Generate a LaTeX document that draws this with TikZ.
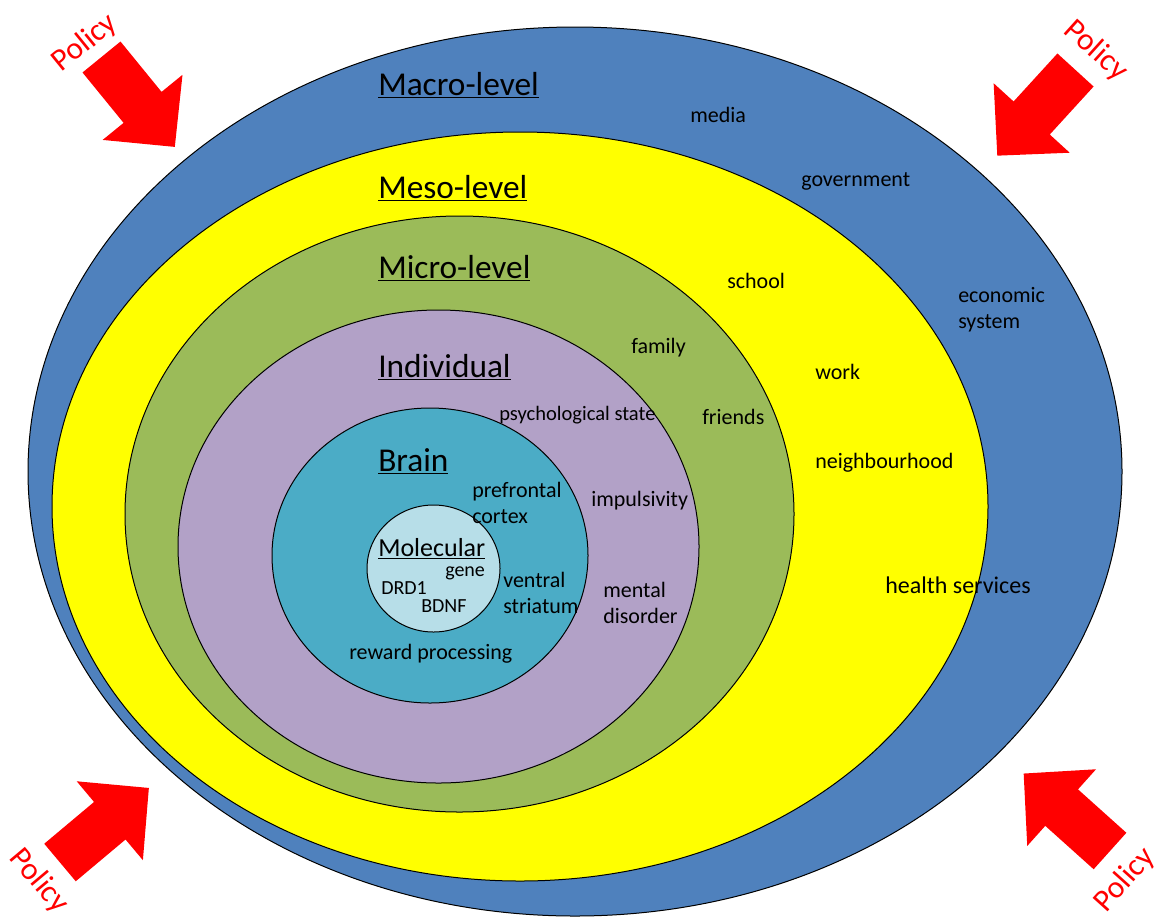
\documentclass[tikz,border=0pt]{standalone}
\usepackage{fontspec}
\setmainfont{Carlito}
\definecolor{macroblue}{HTML}{4F81BD}
\definecolor{mesoyellow}{HTML}{FFFF00}
\definecolor{microgreen}{HTML}{9BBB59}
\definecolor{indivpurple}{HTML}{B2A1C7}
\definecolor{brainteal}{HTML}{4BACC6}
\definecolor{molblue}{HTML}{B7DEE8}
\definecolor{policyred}{HTML}{FF0000}

% block arrow pointing along +x, tail centred on the origin
\newcommand\policyarrow[4]{%
  \fill[policyred, shift={(#2,#3)}, rotate=#4]
    (0,-24.5) -- (65,-24.5) -- (65,-51.5) -- (116,0)
    -- (65,51.5) -- (65,24.5) -- (0,24.5) -- cycle;
}

\begin{document}
\begin{tikzpicture}[x=0.75pt,y=-0.75pt]
\tikzset{
  ring/.style={draw=black, line width=0.75pt},
  level/.style={anchor=west, inner sep=0pt, font=\fontsize{25}{28}\selectfont},
  item/.style={anchor=west, inner sep=0pt, align=left, font=\fontsize{16.5}{19.5}\selectfont},
  smallitem/.style={anchor=west, inner sep=0pt, align=left, font=\fontsize{15}{18}\selectfont},
  policytext/.style={text=policyred, inner sep=0pt, font=\fontsize{23.5}{26}\selectfont}
}
\useasboundingbox (0,0) rectangle (1162,918);

% nested levels, outermost first
\draw[ring, fill=macroblue]   (575,471.5)   ellipse [x radius=547,   y radius=444.5];
\draw[ring, fill=mesoyellow]  (520,506.5)   ellipse [x radius=468,   y radius=374.5];
\draw[ring, fill=microgreen]  (459.5,514)   ellipse [x radius=334.5, y radius=298];
\draw[ring, fill=indivpurple] (438.5,546.5) ellipse [x radius=260.5, y radius=236.5];
\draw[ring, fill=brainteal]   (430,555.5)   ellipse [x radius=158,   y radius=147.5];
\draw[ring, fill=molblue]     (433.5,568.5) ellipse [x radius=66.5,  y radius=63.5];

% level headings
\node[level] (macro) at (378,85)  {\underline{Macro-level}};
\node[level] (meso)  at (378,188) {\underline{Meso-level}};
\node[level] (micro) at (378,268) {\underline{Micro-level}};
\node[level] (indiv) at (378,367) {\underline{Individual}};
\node[level] (brain) at (378,461) {\underline{Brain}};
\node[anchor=west, inner sep=0pt, font=\fontsize{19.5}{22}\selectfont] (molec) at (378,549) {\underline{Molecular}};

% macro-level factors
\node[item] (media) at (690,115) {media};
\node[item] (govt)  at (801,181) {government};
\node[item] (econ)  at (958,310) {economic\\system};

% meso-level factors
\node[item] (school)  at (727,281) {school};
\node[item] (work)    at (815,372) {work};
\node[item] (neigh)   at (815,463) {neighbourhood};
\node[anchor=west, inner sep=0pt, font=\fontsize{18}{21}\selectfont] (health) at (885,585) {health services};

% micro-level factors
\node[item] (family)  at (631,348) {family};
\node[item] (friends) at (702,417) {friends};

% individual factors
\node[anchor=west, inner sep=0pt, font=\fontsize{15.4}{18}\selectfont] (psych) at (499,415) {psychological state};
\node[item] (impuls)  at (591,501) {impulsivity};
\node[item] (mental)  at (603,603) {mental\\disorder};

% brain factors
\node[item] (pfc)     at (472,503) {prefrontal\\cortex};
\node[item] (vstr)    at (503,593) {ventral\\striatum};
\node[item] (reward)  at (349,654) {reward processing};

% molecular factors
\node[smallitem] (gene) at (445,573) {gene};
\node[smallitem] (drd1) at (381,588) {DRD1};
\node[smallitem] (bdnf) at (421,606) {BDNF};

% policy pressure from the four corners
\policyarrow{tl}{101.5}{57}{-50.8}
\policyarrow{tr}{1075.5}{70}{-132.4}
\policyarrow{bl}{60}{862.5}{40}
\policyarrow{br}{1110}{851}{138.1}

\node[policytext, rotate=39]  (poltl) at (85,43)   {Policy};
\node[policytext, rotate=-42] (poltr) at (1096,51) {Policy};
\node[policytext, rotate=-50] (polbl) at (39,881)  {Policy};
\node[policytext, rotate=48]  (polbr) at (1125,880) {Policy};
\end{tikzpicture}
\end{document}
